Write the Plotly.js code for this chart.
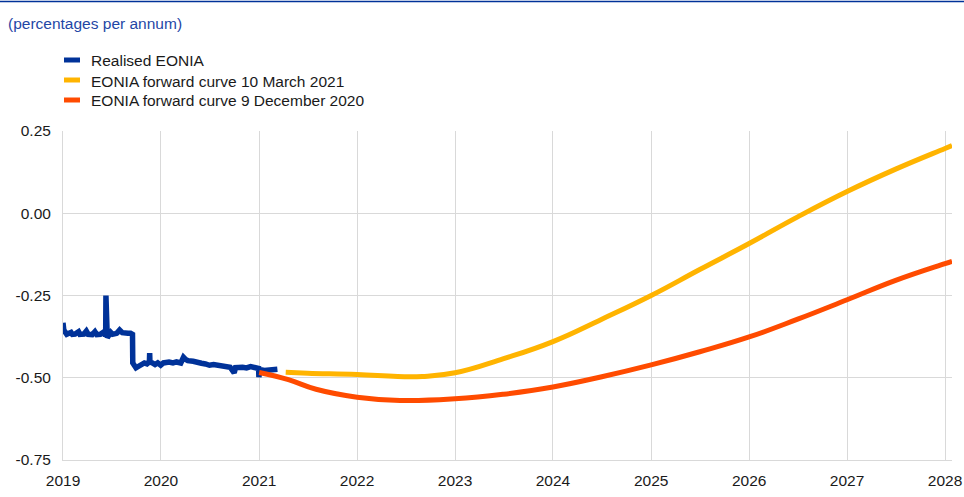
<!DOCTYPE html>
<html>
<head>
<meta charset="utf-8">
<script src="https://cdn.plot.ly/plotly-3.0.1.min.js"></script>
<style>
  html, body { margin: 0; padding: 0; background: #ffffff; }
  #chart { width: 964px; height: 497px; }
</style>
</head>
<body>
<div id="chart"></div>
<script>
// ---- Data ----
const seriesNames = [
  "Realised EONIA",
  "EONIA forward curve 10 March 2021",
  "EONIA forward curve 9 December 2020"
];
const seriesColors = ["#003299", "#FFB400", "#FF4B00"];

const subtitle = "(percentages per annum)";

const realisedDates = [
  "2019-01-01","2019-01-04","2019-01-15","2019-01-31","2019-02-05","2019-02-15","2019-02-28",
  "2019-03-05","2019-03-20","2019-03-29","2019-04-05","2019-04-20","2019-04-30","2019-05-07",
  "2019-05-20","2019-05-31","2019-06-05","2019-06-09","2019-06-10","2019-06-11","2019-06-15",
  "2019-06-28","2019-07-05","2019-07-20","2019-07-31","2019-08-10","2019-08-20","2019-08-31",
  "2019-09-10","2019-09-17","2019-09-18","2019-09-25","2019-09-30","2019-10-10","2019-10-20",
  "2019-10-31","2019-11-10","2019-11-19","2019-11-20","2019-11-21","2019-11-30","2019-12-10",
  "2019-12-20","2019-12-31","2020-01-10","2020-01-31","2020-02-15","2020-02-28","2020-03-15",
  "2020-03-25","2020-03-31","2020-04-10","2020-04-30","2020-05-15","2020-05-31","2020-06-15",
  "2020-06-30","2020-07-15","2020-07-31","2020-08-15","2020-08-31","2020-09-15","2020-09-30",
  "2020-10-05","2020-10-31","2020-11-15","2020-11-30","2020-12-15","2020-12-30","2020-12-31",
  "2021-01-04","2021-01-20","2021-02-01","2021-02-15","2021-03-01","2021-03-10"
];
const realisedValues = [
  -0.333,-0.355,-0.368,-0.362,-0.368,-0.367,-0.360,
  -0.368,-0.367,-0.358,-0.368,-0.369,-0.360,-0.369,
  -0.368,-0.362,-0.368,-0.368,-0.250,-0.368,-0.378,
  -0.362,-0.368,-0.365,-0.355,-0.363,-0.362,-0.365,
  -0.365,-0.368,-0.455,-0.462,-0.470,-0.465,-0.458,
  -0.455,-0.458,-0.452,-0.425,-0.452,-0.455,-0.460,
  -0.455,-0.462,-0.455,-0.452,-0.455,-0.452,-0.455,
  -0.438,-0.443,-0.448,-0.450,-0.455,-0.456,-0.458,
  -0.462,-0.460,-0.463,-0.466,-0.467,-0.468,-0.485,
  -0.469,-0.468,-0.470,-0.466,-0.470,-0.472,-0.498,
  -0.475,-0.478,-0.477,-0.476,-0.478,-0.474
];

const marchDates = [
  "2021-04-10","2021-07-01","2022-01-01","2022-06-01","2022-09-01","2023-01-01",
  "2023-07-01","2024-01-01","2024-07-01","2025-01-01","2025-07-01","2026-01-01",
  "2026-07-01","2027-01-01","2027-07-01","2028-01-01","2028-01-27"
];
const marchValues = [
  -0.483,-0.486,-0.490,-0.496,-0.496,-0.485,
  -0.442,-0.390,-0.322,-0.250,-0.171,-0.092,
  -0.011,0.066,0.134,0.197,0.206
];

const decemberDates = [
  "2021-01-01","2021-04-20","2021-08-01","2022-01-01","2022-06-10","2023-01-01",
  "2023-07-01","2024-01-01","2024-07-01","2025-01-01","2025-07-01","2026-01-01",
  "2026-07-01","2027-01-01","2027-07-01","2028-01-01","2028-01-27"
];
const decemberValues = [
  -0.484,-0.506,-0.535,-0.559,-0.569,-0.564,
  -0.550,-0.528,-0.497,-0.461,-0.421,-0.376,
  -0.322,-0.263,-0.204,-0.153,-0.146
];

const yTickVals = [-0.75, -0.5, -0.25, 0, 0.25];
const yTickText = ["-0.75", "-0.50", "-0.25", "0.00", "0.25"];

// ---- Chart ----
const FONT = "Liberation Sans, Arial, sans-serif";
const FS = 15.5;

const traces = [
  { x: realisedDates, y: realisedValues, name: seriesNames[0], type: "scatter", mode: "lines",
    line: { color: seriesColors[0], width: 5.5, shape: "linear" } },
  { x: marchDates, y: marchValues, name: seriesNames[1], type: "scatter", mode: "lines",
    line: { color: seriesColors[1], width: 5, shape: "spline", smoothing: 1.3 } },
  { x: decemberDates, y: decemberValues, name: seriesNames[2], type: "scatter", mode: "lines",
    line: { color: seriesColors[2], width: 5, shape: "spline", smoothing: 1.3 } }
];

// plot area geometry (pixels) used to place the custom legend in paper coords
const L = 63, R = 12, T = 131, B = 37, W = 964, H = 497;
const pw = W - L - R, ph = H - T - B;
const px = v => (v - L) / pw;
const py = v => (H - B - v) / ph;

const shapes = [
  { type: "line", xref: "paper", yref: "paper", x0: px(0), x1: px(964), y0: py(1.5), y1: py(1.5),
    line: { color: "#003299", width: 1.5 } }
];
const annotations = [
  { text: subtitle, xref: "paper", yref: "paper", x: px(6), y: py(24), xanchor: "left", yanchor: "middle",
    showarrow: false, font: { family: FONT, size: FS, color: "#1f47a6" } }
];
const legendRowY = [60, 80, 100];
seriesNames.forEach((name, i) => {
  shapes.push({ type: "rect", xref: "paper", yref: "paper",
    x0: px(64), x1: px(80), y0: py(legendRowY[i] - 2.5), y1: py(legendRowY[i] + 2.5),
    fillcolor: seriesColors[i], line: { width: 0 } });
  annotations.push({ text: name, xref: "paper", yref: "paper", x: px(89), y: py(legendRowY[i] + 1),
    xanchor: "left", yanchor: "middle", showarrow: false,
    font: { family: FONT, size: FS, color: "#1a1a1a" } });
});

const layout = {
  width: W, height: H,
  margin: { l: L, r: R, t: T, b: B, pad: 0 },
  paper_bgcolor: "#ffffff", plot_bgcolor: "#ffffff",
  showlegend: false,
  font: { family: FONT, size: FS, color: "#1a1a1a" },
  xaxis: {
    type: "date",
    range: ["2019-01-01", "2028-01-27"],
    tick0: "2019-01-01", dtick: "M12", tickformat: "%Y",
    showgrid: true, gridcolor: "#d9d9d9", gridwidth: 1,
    showline: true, linecolor: "#d9d9d9", linewidth: 1,
    ticks: "", ticklabelstandoff: 6,
    zeroline: false, fixedrange: true
  },
  yaxis: {
    range: [-0.75, 0.25],
    tickvals: yTickVals, ticktext: yTickText,
    showgrid: true, gridcolor: "#d9d9d9", gridwidth: 1,
    showline: true, linecolor: "#d9d9d9", linewidth: 1,
    ticks: "", ticklabelstandoff: 8,
    zeroline: false, fixedrange: true
  },
  shapes: shapes,
  annotations: annotations,
  hovermode: false
};

Plotly.newPlot("chart", traces, layout, { displayModeBar: false, staticPlot: true });
</script>
</body>
</html>
